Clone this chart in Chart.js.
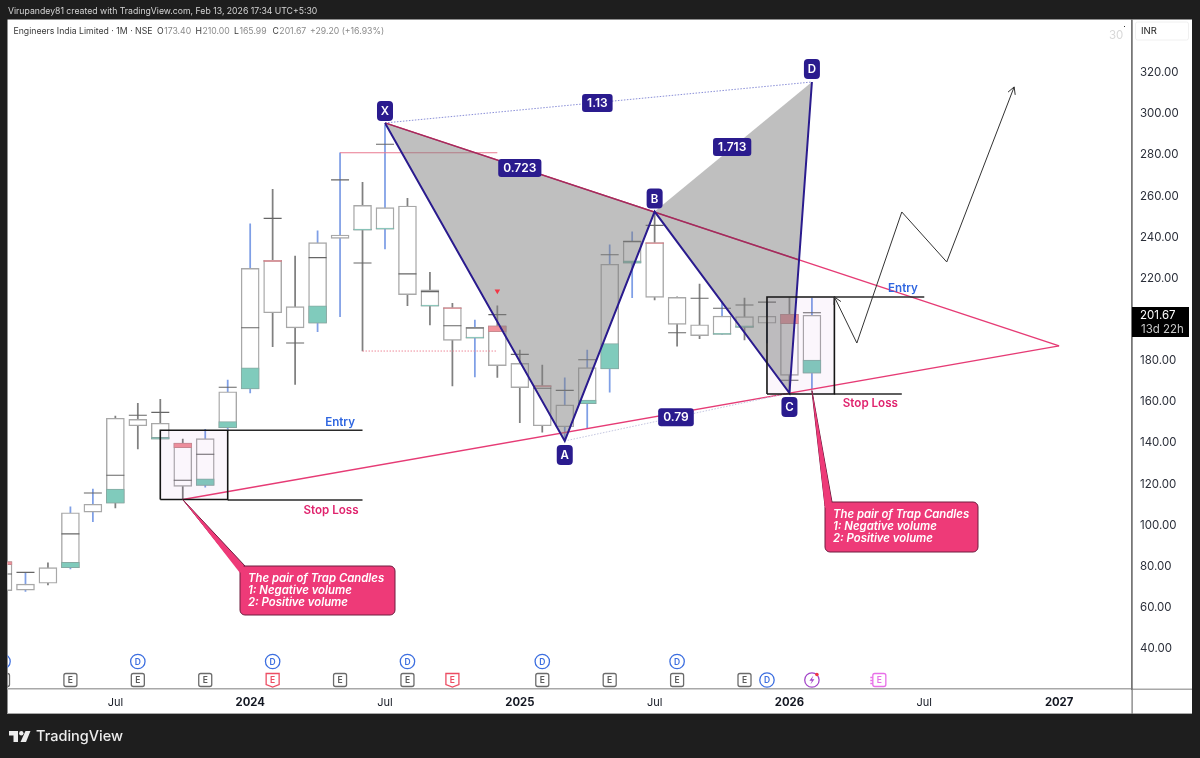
<!DOCTYPE html>
<html>
<head>
<meta charset="utf-8">
<title>Engineers India Limited</title>
<style>
html, body { margin: 0; padding: 0; background: #1e1e1e; }
canvas { display: block; }
</style>
<script src="https://cdn.jsdelivr.net/npm/chart.js@4"></script>
</head>
<body>
<canvas id="chart" width="1200" height="758"></canvas>
<script>
// month index 0 = Feb 2023
const months = ['Feb 23','Mar 23','Apr 23','May 23','Jun 23','Jul 23','Aug 23','Sep 23','Oct 23','Nov 23','Dec 23',
    'Jan 24','Feb 24','Mar 24','Apr 24','May 24','Jun 24','Jul 24','Aug 24','Sep 24','Oct 24','Nov 24','Dec 24',
    'Jan 25','Feb 25','Mar 25','Apr 25','May 25','Jun 25','Jul 25','Aug 25','Sep 25','Oct 25','Nov 25','Dec 25',
    'Jan 26','Feb 26'];
const bodyTop = [81.8,70.9,78.9,105.6,109.7,151.5,151.0,149.1,139.4,141.6,164.4,
    224.4,228.3,205.8,236.9,240.6,255.0,253.9,254.7,213.9,205.3,195.7,196.4,
    178.2,167.4,158.0,176.1,226.4,237.5,236.9,210.3,197.0,201.2,200.9,201.1,
    202.1,201.6];
const bodyBottom = [67.7,68.0,71.3,78.9,105.9,110.2,147.9,141.4,118.4,118.9,146.9,
    165.8,202.8,195.5,197.7,239.0,243.0,243.4,211.6,206.0,189.4,190.4,177.1,
    166.4,147.9,147.4,158.6,175.5,226.9,210.3,197.2,191.7,192.3,195.7,197.7,
    172.4,173.5];
const wickHigh = [81.8,76.6,81.2,108.5,117.1,152.6,158.8,160.7,141.4,146.2,170.1,
    246.0,262.8,230.4,242.7,280.6,266.2,294.1,258.5,222.5,207.4,199.3,206.2,
    184.7,177.4,171.2,184.7,235.8,242.2,251.3,210.5,216.8,208.2,209.9,208.0,
    210.1,210.0];
const wickLow = [67.7,67.3,70.5,78.3,101.2,107.9,136.6,141.4,112.1,118.0,146.3,
    163.8,186.3,168.0,193.6,200.9,184.2,233.8,206.2,196.9,167.2,171.6,171.4,
    149.4,144.7,141.0,146.7,164.2,210.1,209.0,186.6,190.2,192.3,189.6,188.1,
    164.2,165.9];
const crossLevel = [75.8,76.6,null,95.3,115.2,123.8,153.0,154.4,121.4,134.0,166.6,
    195.5,248.7,188.1,229.6,267.4,227.0,284.7,221.7,213.1,196.5,195.4,201.9,
    182.6,166.1,165.1,180.0,231.0,237.5,245.3,193.1,209.9,205.0,206.6,208.0,
    170.0,202.8];
const redEdge = [80.3,null,null,null,null,null,null,null,137.2,null,null,
    null,227.7,null,null,null,null,null,null,null,204.8,null,193.6,
    null,166.7,null,null,null,null,236.4,null,null,null,null,null,
    197.5,null];
const tealEdge = [null,null,null,81.5,null,117.1,null,142.2,null,122.1,149.9,
    176.0,null,null,206.2,null,243.5,244.0,null,206.6,null,191.0,null,
    null,null,null,160.4,187.8,228.1,null,null,null,192.8,196.4,null,
    null,179.8];
const blueWick = [0,1,0,1,1,0,0,0,0,1,1,
    1,0,0,1,1,0,1,0,0,0,1,0,
    0,0,1,1,1,1,0,0,0,1,0,1,
    0,1];

const priceTicks = [40,60,80,100,120,140,160,180,200,220,240,260,280,300,320];
const timeTickMonths = [5,11,17,23,29,35,41,47];
const timeTickLabels = ['Jul','2024','Jul','2025','Jul','2026','Jul','2027'];

// XABCD harmonic pattern
const patternNames = ['X','A','B','C','D'];
const patternMonths = [17,25,29,35,36];
const patternPrices = [295.1,140.5,252.0,163.8,315.0];
const ratioLabels = ['1.13','0.723','1.713','0.79'];
const ratioMonths = [26.45,23,32.45,29.95];
const ratioPrices = [304.8,273.2,283.4,152.0];

const upperTrendMonths = [17,47];
const upperTrendPrices = [295.1,186.7];
const shadedTrendMonths = [17,35.4];
const shadedTrendPrices = [295.1,228.6];
const lowerTrendMonths = [8,47];
const lowerTrendPrices = [112.0,186.7];
const forecastMonths = [37,38,40,42,45];
const forecastPrices = [210.5,188.1,251.8,227.5,312.6];

const leftBoxMonths = [7,10];
const leftBoxPrices = [112.0,145.7];
const rightBoxMonths = [34,37];
const rightBoxPrices = [163.3,210.5];
const levelLines = [
    { m: [10,16], p: 145.7 },
    { m: [10,16], p: 111.8 },
    { m: [37,41], p: 210.5 },
    { m: [37,40], p: 163.3 },
];

const dividendMonths = [0,6,12,18,24,30];
const dividendLowMonths = [34];
const earningsMonths = [0,3,6,9,15,18,24,27,30,33];
const earningsRedMonths = [12,20];
const earningsNextMonth = 39;
const newsMonth = 36;

const FONT = 'Inter, "Noto Sans", sans-serif';
const NAVY = '#2a1b8e';
const PINK = '#e63b75';

const candles = (top, bottom) => months.map((m, i) => ({ x: i, y: [bottom[i], top[i]] }));
const polygon = (xs, ys) => xs.map((x, i) => ({ x, y: ys[i] }));
const boxPoints = (xs, ys) => [
    { x: xs[0], y: ys[0] }, { x: xs[1], y: ys[0] }, { x: xs[1], y: ys[1] }, { x: xs[0], y: ys[1] }, { x: xs[0], y: ys[0] },
];
const lineSet = (data, color, width, order, extra) => Object.assign({
    type: 'line', data, borderColor: color, borderWidth: width, pointRadius: 0, fill: false, tension: 0, order, clip: 0,
}, extra || {});

const datasets = [];
// candles: wick, body, volume part
datasets.push({
    type: 'bar', grouped: false, order: 60, barThickness: 1.1, borderWidth: 0, borderSkipped: false,
    data: months.map((m, i) => ({ x: i, y: [wickLow[i], wickHigh[i]] })),
    backgroundColor: months.map((m, i) => blueWick[i] ? '#7f9fe6' : '#808080'),
});
datasets.push({
    type: 'bar', grouped: false, order: 59, barThickness: 18, borderWidth: 1.4, borderSkipped: false,
    data: candles(bodyTop, bodyBottom), backgroundColor: '#ffffff', borderColor: '#a8a8a8',
});
datasets.push({
    type: 'bar', grouped: false, order: 58, barThickness: 18, borderWidth: 1, borderSkipped: false,
    data: months.map((m, i) => ({ x: i, y: [redEdge[i], bodyTop[i]] })).filter(d => d.y[0] !== null),
    backgroundColor: '#f1939b', borderColor: '#c98a90',
});
datasets.push({
    type: 'bar', grouped: false, order: 58, barThickness: 18, borderWidth: 1, borderSkipped: false,
    data: months.map((m, i) => ({ x: i, y: [bodyBottom[i], tealEdge[i]] })).filter(d => d.y[1] !== null),
    backgroundColor: '#80cbbc', borderColor: '#86aaa3',
});
datasets.push({
    type: 'scatter', order: 57, pointStyle: 'line', pointRadius: 9, pointBorderWidth: 1.1, pointBorderColor: '#666666',
    data: months.map((m, i) => ({ x: i, y: crossLevel[i] })).filter(d => d.y !== null),
});

// thin level lines from Jul 24 area
datasets.push(lineSet([{ x: 15, y: 280.6 }, { x: 22, y: 280.6 }], '#e9798f', 1, 55));
datasets.push(lineSet([{ x: 16, y: 184.2 }, { x: 22, y: 184.2 }], '#ee8a9a', 1, 55, { borderDash: [1.5, 1.5] }));

// trap boxes, drawn under the pattern shading
datasets.push(lineSet(boxPoints(leftBoxMonths, leftBoxPrices), 'rgba(0,0,0,0)', 0, 40, { fill: 'shape', backgroundColor: 'rgba(156,39,176,0.045)' }));
datasets.push(lineSet(boxPoints(rightBoxMonths, rightBoxPrices), 'rgba(0,0,0,0)', 0, 40, { fill: 'shape', backgroundColor: 'rgba(156,39,176,0.045)' }));

// trend lines
datasets.push(lineSet(polygon(upperTrendMonths, upperTrendPrices), PINK, 1.4, 35));
datasets.push(lineSet(polygon(lowerTrendMonths, lowerTrendPrices), PINK, 1.4, 35));

// shaded XAB and BCD triangles
datasets.push(lineSet(polygon([17,25,29,17], [295.1,140.5,252.0,295.1]), 'rgba(0,0,0,0)', 0, 30, { fill: 'shape', backgroundColor: 'rgba(128,128,128,0.5)' }));
datasets.push(lineSet(polygon([29,35,36,29], [252.0,163.8,315.0,252.0]), 'rgba(0,0,0,0)', 0, 30, { fill: 'shape', backgroundColor: 'rgba(128,128,128,0.5)' }));

// upper trend line looks darker where it runs through the shading
datasets.push(lineSet(polygon(shadedTrendMonths, shadedTrendPrices), '#a42a5c', 1.4, 28));

// dotted ratio links
datasets.push(lineSet(polygon([17,36], [295.1,315.0]), '#8a8fd8', 1, 25, { borderDash: [1.5, 1.5] }));
datasets.push(lineSet(polygon([25,35], [140.5,163.8]), '#c4c6e0', 1, 25, { borderDash: [1.5, 1.5] }));

// pattern legs
datasets.push(lineSet(polygon(patternMonths, patternPrices), NAVY, 2, 20));

// box edges and levels on top
datasets.push(lineSet(boxPoints(leftBoxMonths, leftBoxPrices), '#151515', 1.6, 18));
datasets.push(lineSet(boxPoints(rightBoxMonths, rightBoxPrices), '#151515', 1.6, 18));
levelLines.forEach(l => {
    datasets.push(lineSet([{ x: l.m[0], y: l.p }, { x: l.m[1], y: l.p }], '#2a2a2a', 1.4, 18));
});

// forecast path
datasets.push(lineSet(polygon(forecastMonths, forecastPrices), '#333333', 1, 15));

// red flag above Dec 24
datasets.push({
    type: 'scatter', order: 14, pointStyle: 'triangle', rotation: 180, pointRadius: 3.2, pointBorderWidth: 0,
    pointBackgroundColor: '#f23645', data: [{ x: 22, y: 213.4 }],
});

function roundRect(ctx, x, y, w, h, r) {
    ctx.beginPath();
    ctx.roundRect(x, y, w, h, r);
}

function chevron(ctx, tip, from) {
    const a = Math.atan2(tip.y - from.y, tip.x - from.x);
    ctx.beginPath();
    ctx.moveTo(tip.x - 8 * Math.cos(a - 0.5), tip.y - 8 * Math.sin(a - 0.5));
    ctx.lineTo(tip.x, tip.y);
    ctx.lineTo(tip.x - 8 * Math.cos(a + 0.5), tip.y - 8 * Math.sin(a + 0.5));
    ctx.stroke();
}

function drawCallout(ctx, tip, base1, base2, box, lines) {
    ctx.fillStyle = '#ee3a78';
    ctx.strokeStyle = '#6e1c3f';
    ctx.lineWidth = 1;
    ctx.beginPath();
    ctx.moveTo(tip.x, tip.y);
    ctx.lineTo(base1.x, base1.y);
    ctx.lineTo(base2.x, base2.y);
    ctx.closePath();
    ctx.fill();
    ctx.stroke();
    roundRect(ctx, box.x, box.y, box.w, box.h, 5);
    ctx.fill();
    ctx.stroke();
    ctx.beginPath();
    ctx.moveTo(tip.x, tip.y);
    ctx.lineTo(base1.x, base1.y + 2);
    ctx.lineTo(base2.x, base2.y + 2);
    ctx.closePath();
    ctx.fill();
    ctx.fillStyle = '#ffffff';
    ctx.font = 'italic 600 11.35px ' + FONT;
    ctx.textAlign = 'left';
    ctx.textBaseline = 'middle';
    lines.forEach((t, i) => ctx.fillText(t, box.x + 8, box.y + 13 + i * 11.6));
}

function drawEvent(ctx, kind, x, yPos) {
    ctx.lineWidth = 1.3;
    ctx.textAlign = 'center';
    ctx.textBaseline = 'middle';
    ctx.font = '600 8.5px ' + FONT;
    if (kind === 'D') {
        ctx.strokeStyle = '#3d6fe0';
        ctx.fillStyle = '#3d6fe0';
        ctx.beginPath();
        ctx.arc(x, yPos, 7.2, 0, Math.PI * 2);
        ctx.stroke();
        ctx.fillText('D', x, yPos + 0.5);
    } else if (kind === 'E') {
        ctx.strokeStyle = '#6b6b6b';
        ctx.fillStyle = '#5a5a5a';
        roundRect(ctx, x - 6.5, 673.5, 13, 13, 2);
        ctx.stroke();
        ctx.fillText('E', x, 680.5);
    } else if (kind === 'Er') {
        ctx.strokeStyle = '#ec4d63';
        ctx.fillStyle = '#ec4d63';
        ctx.beginPath();
        ctx.moveTo(x - 6.5, 673.5);
        ctx.lineTo(x + 6.5, 673.5);
        ctx.lineTo(x + 6.5, 684.5);
        ctx.lineTo(x, 687);
        ctx.lineTo(x - 6.5, 684.5);
        ctx.closePath();
        ctx.stroke();
        ctx.fillText('E', x, 680);
    } else if (kind === 'En') {
        ctx.strokeStyle = '#e86fe8';
        ctx.fillStyle = '#e86fe8';
        roundRect(ctx, x - 6.5, 673.5, 13, 13, 2);
        ctx.stroke();
        ctx.fillText('E', x, 680.5);
        ctx.beginPath();
        ctx.moveTo(x - 9, 677.5); ctx.lineTo(x - 6.5, 677.5);
        ctx.moveTo(x - 9, 680.5); ctx.lineTo(x - 6.5, 680.5);
        ctx.moveTo(x - 9, 683.5); ctx.lineTo(x - 6.5, 683.5);
        ctx.stroke();
    } else if (kind === 'N') {
        ctx.strokeStyle = '#a347c9';
        ctx.fillStyle = '#a347c9';
        ctx.beginPath();
        ctx.arc(x, 680, 7.2, 0, Math.PI * 2);
        ctx.stroke();
        ctx.beginPath();
        ctx.moveTo(x + 1.5, 675.5);
        ctx.lineTo(x - 2.5, 680.8);
        ctx.lineTo(x, 680.8);
        ctx.lineTo(x - 1.5, 684.5);
        ctx.lineTo(x + 2.5, 679.2);
        ctx.lineTo(x, 679.2);
        ctx.closePath();
        ctx.fill();
        ctx.fillStyle = '#f23645';
        ctx.beginPath();
        ctx.arc(x + 5, 674.5, 1.8, 0, Math.PI * 2);
        ctx.fill();
    }
}

const pagePlugin = {
    id: 'page',
    beforeDraw(chart) {
        const ctx = chart.ctx;
        ctx.save();
        ctx.fillStyle = '#1e1e1e';
        ctx.fillRect(0, 0, 1200, 758);
        ctx.fillStyle = '#ffffff';
        ctx.fillRect(7.5, 19.5, 1184.5, 694.5);
        ctx.restore();
    },
    afterDatasetsDraw(chart) {
        const ctx = chart.ctx;
        const sx = chart.scales.x;
        const sy = chart.scales.y;
        const px = m => sx.getPixelForValue(m);
        const py = p => sy.getPixelForValue(p);
        const area = chart.chartArea;
        ctx.save();

        // forecast arrow heads
        ctx.strokeStyle = '#333333';
        ctx.lineWidth = 1;
        const fp = forecastMonths.map((m, i) => ({ x: px(m), y: py(forecastPrices[i]) }));
        chevron(ctx, fp[0], fp[1]);
        chevron(ctx, fp[4], fp[3]);

        // Entry / Stop Loss
        ctx.font = '600 11.6px ' + FONT;
        ctx.textAlign = 'center';
        ctx.textBaseline = 'middle';
        ctx.fillStyle = '#2f66e0';
        ctx.fillText('Entry', px(15), py(149.5));
        ctx.fillText('Entry', px(40.05), py(214.8));
        ctx.fillStyle = '#e0246e';
        ctx.fillText('Stop Loss', px(14.6), py(106.9));
        ctx.fillText('Stop Loss', px(38.6), py(158.9));

        // ratio tags
        ctx.font = '600 12px ' + FONT;
        ratioLabels.forEach((t, i) => {
            const w = ctx.measureText(t).width + 10;
            const x = px(ratioMonths[i]);
            const y = py(ratioPrices[i]);
            ctx.fillStyle = NAVY;
            roundRect(ctx, x - w / 2, y - 9, w, 18, 3);
            ctx.fill();
            ctx.fillStyle = '#ffffff';
            ctx.fillText(t, x, y + 0.5);
        });

        // XABCD tags
        const tagOffset = [-12, 14, -13, 14, -13];
        ctx.font = '600 11.5px ' + FONT;
        patternNames.forEach((t, i) => {
            const x = px(patternMonths[i]);
            const y = py(patternPrices[i]) + tagOffset[i];
            ctx.fillStyle = NAVY;
            roundRect(ctx, x - 8, y - 10, 16, 20, 4);
            ctx.fill();
            ctx.fillStyle = '#ffffff';
            ctx.fillText(t, x, y + 0.5);
        });

        // callouts
        const lt = { x: px(8), y: py(112.0) };
        drawCallout(ctx, lt, { x: 245, y: 566 }, { x: 240, y: 571 }, { x: 240, y: 566, w: 155, h: 49 },
            ['The pair of Trap Candles', '1: Negative volume', '2: Positive volume']);
        const rt = { x: px(36), y: py(165.0) };
        drawCallout(ctx, rt, { x: 832, y: 502 }, { x: 825, y: 506 }, { x: 825, y: 502, w: 153, h: 50 },
            ['The pair of Trap Candles', '1: Negative volume', '2: Positive volume']);

        // event marks along the bottom
        ctx.save();
        ctx.beginPath();
        ctx.rect(area.left, area.top, area.right - area.left, area.bottom - area.top);
        ctx.clip();
        dividendMonths.forEach(m => drawEvent(ctx, 'D', px(m), 661.5));
        dividendLowMonths.forEach(m => drawEvent(ctx, 'D', px(m), 680));
        earningsMonths.forEach(m => drawEvent(ctx, 'E', px(m)));
        earningsRedMonths.forEach(m => drawEvent(ctx, 'Er', px(m)));
        drawEvent(ctx, 'N', px(newsMonth));
        drawEvent(ctx, 'En', px(earningsNextMonth));
        ctx.restore();
        ctx.restore();
    },
    afterDraw(chart) {
        const ctx = chart.ctx;
        ctx.save();
        ctx.textBaseline = 'middle';
        ctx.textAlign = 'left';

        // axis frame lines reach the panel edges
        ctx.fillStyle = '#a8a8a8';
        ctx.fillRect(1132, 688.5, 60, 1.5);
        ctx.fillRect(7.5, 713, 1184.5, 1);
        ctx.fillStyle = '#767676';
        ctx.fillRect(1131.5, 19.5, 1.2, 694.5);

        // top strip
        ctx.font = '8.7px ' + FONT;
        ctx.fillStyle = '#d4d4d4';
        ctx.fillText('Virupandey81 created with TradingView.com, Feb 13, 2026 17:34 UTC+5:30', 8, 11);

        // symbol line
        ctx.font = '8.7px ' + FONT;
        ctx.fillStyle = '#3a3a3a';
        ctx.fillText('Engineers India Limited · 1M · NSE', 13.5, 31);
        [['O', '173.40', 157], ['H', '210.00', 195.5], ['L', '165.99', 234], ['C', '201.67', 272.5]].forEach(r => {
            ctx.fillStyle = '#3a3a3a';
            ctx.fillText(r[0], r[2], 31);
            const w = ctx.measureText(r[0]).width;
            ctx.fillStyle = '#8a8a8a';
            ctx.fillText(r[1], r[2] + w + 0.5, 31);
        });
        ctx.fillStyle = '#8a8a8a';
        ctx.fillText('+29.20 (+16.93%)', 310, 31);

        // watermark count
        ctx.font = '11.5px ' + FONT;
        ctx.fillStyle = '#d8d8d8';
        ctx.fillText('30', 1109, 35.5);
        ctx.fillStyle = '#333333';
        ctx.fillRect(1124, 26, 1, 1);

        // currency tag
        ctx.fillStyle = '#ffffff';
        ctx.strokeStyle = '#f0f0f0';
        ctx.lineWidth = 1;
        roundRect(ctx, 1135.5, 22, 53, 18, 2);
        ctx.fill();
        ctx.stroke();
        ctx.font = '9.5px ' + FONT;
        ctx.fillStyle = '#222222';
        ctx.fillText('INR', 1141, 31.5);

        // last price
        ctx.fillStyle = '#000000';
        ctx.fillRect(1132, 307, 57, 30);
        ctx.font = '11.5px ' + FONT;
        ctx.fillStyle = '#ffffff';
        ctx.fillText('201.67', 1140, 316);
        ctx.fillStyle = '#c8c8c8';
        ctx.fillText('13d 22h', 1141, 329.5);

        // footer logo
        ctx.fillStyle = '#ececec';
        ctx.beginPath();
        ctx.moveTo(9, 731); ctx.lineTo(18, 731); ctx.lineTo(18, 742); ctx.lineTo(13.5, 742); ctx.lineTo(13.5, 735.5); ctx.lineTo(9, 735.5);
        ctx.closePath();
        ctx.fill();
        ctx.beginPath();
        ctx.arc(21.3, 733.2, 2.2, 0, Math.PI * 2);
        ctx.fill();
        ctx.beginPath();
        ctx.moveTo(25.5, 731); ctx.lineTo(30.5, 731); ctx.lineTo(26, 742); ctx.lineTo(20.5, 742);
        ctx.closePath();
        ctx.fill();
        ctx.font = '500 14.5px ' + FONT;
        ctx.fillText('TradingView', 36, 737);
        ctx.restore();
    },
};

new Chart(document.getElementById('chart'), {
    type: 'bar',
    data: { datasets },
    plugins: [pagePlugin],
    options: {
        responsive: false,
        animation: false,
        devicePixelRatio: 1,
        layout: { autoPadding: false, padding: { left: 7.5, top: 19.5, right: 8, bottom: 44 } },
        plugins: { legend: { display: false }, tooltip: { enabled: false } },
        scales: {
            x: {
                type: 'linear',
                offset: false,
                min: 0.2,
                max: 50.245,
                grid: { display: false, drawTicks: false },
                border: { display: true, color: '#a8a8a8', width: 1.5 },
                afterFit(scale) { scale.height = 25; scale.paddingLeft = 0; scale.paddingRight = 0; },
                afterBuildTicks(scale) { scale.ticks = timeTickMonths.map(v => ({ value: v })); },
                ticks: {
                    autoSkip: false,
                    maxRotation: 0,
                    padding: 7,
                    color: '#131722',
                    font: c => (c.tick && timeTickLabels[timeTickMonths.indexOf(c.tick.value)] !== 'Jul')
                        ? { family: FONT, size: 11.3, weight: '700' }
                        : { family: FONT, size: 11, weight: '400' },
                    callback: v => timeTickLabels[timeTickMonths.indexOf(v)],
                },
            },
            y: {
                type: 'linear',
                position: 'right',
                min: 19.9,
                max: 345.38,
                grid: { display: false, drawTicks: false },
                border: { display: true, color: '#767676', width: 1.2 },
                afterFit(scale) { scale.width = 60; scale.paddingTop = 0; scale.paddingBottom = 0; },
                afterBuildTicks(scale) { scale.ticks = priceTicks.map(v => ({ value: v })); },
                ticks: {
                    autoSkip: false,
                    padding: 8,
                    labelOffset: 1,
                    color: '#2a2e39',
                    font: { family: FONT, size: 11.5 },
                    callback: v => v.toFixed(2),
                },
            },
        },
    },
});
</script>
</body>
</html>
